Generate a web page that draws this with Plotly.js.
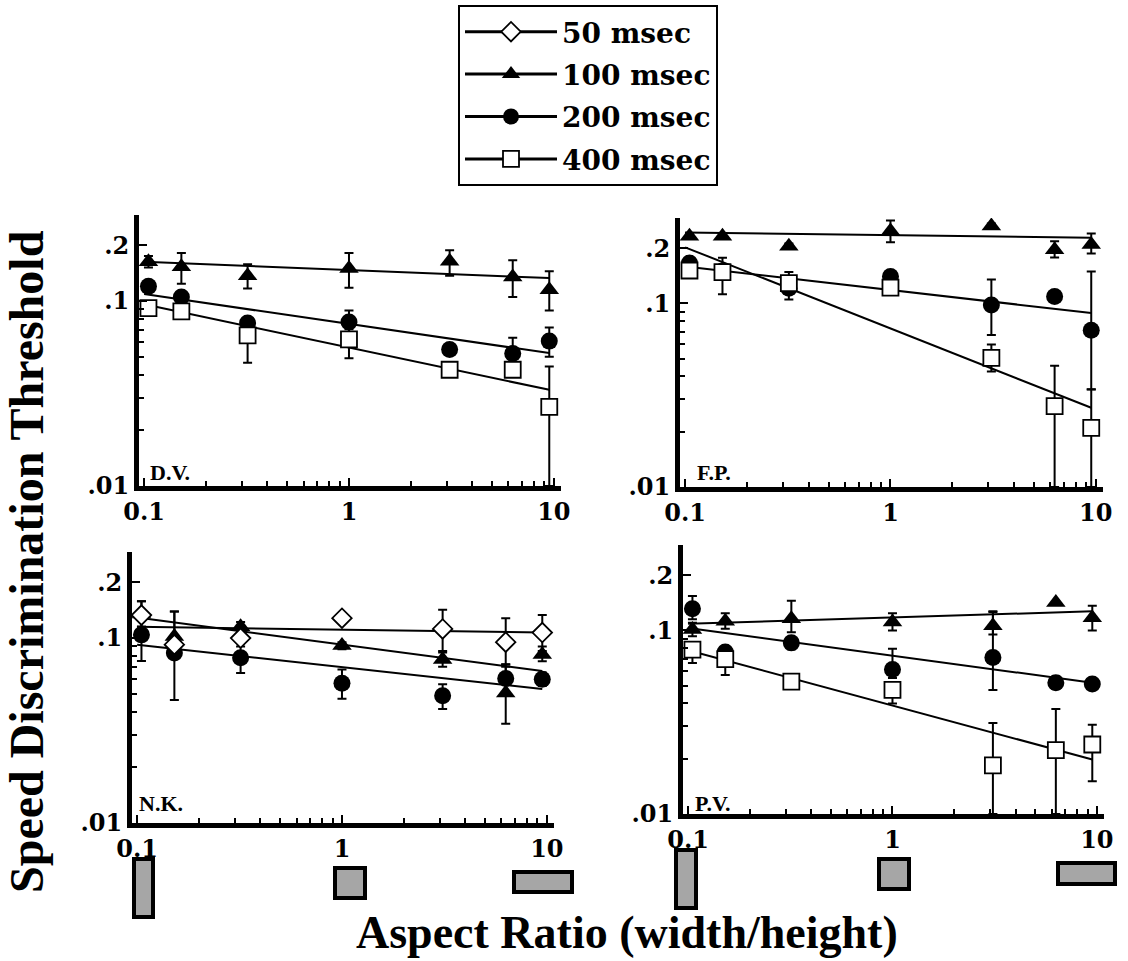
<!DOCTYPE html>
<html><head><meta charset="utf-8">
<script src="https://cdn.plot.ly/plotly-3.0.1.min.js"></script>
<style>body{margin:0;background:#fff}#chart{width:1128px;height:961px}</style>
</head><body><div id="chart"></div>
<script>
// ---------- data ----------
const ratio = [0.105, 0.152, 0.32, 1, 3.1, 6.3, 9.5];
const fitX = [0.1, 9.5];
const seriesNames = ['50 msec', '100 msec', '200 msec', '400 msec'];
const panelNames = ['D.V.', 'F.P.', 'N.K.', 'P.V.'];
const xTickVals = [0.1, 1, 10];
const xTickText = ['0.1', '1', '10'];
const yTickVals = [0.01, 0.1, 0.2];
const yTickText = ['.01', '.1', '.2'];

// D.V.
const dv_tri    = [0.163, 0.153, 0.137, 0.150, 0.164, 0.135, 0.115];
const dv_tri_hi = [0.175, 0.182, 0.158, 0.182, 0.188, 0.166, 0.145];
const dv_tri_lo = [0.152, 0.124, 0.117, 0.118, 0.137, 0.105, 0.089];
const dv_cir    = [0.120, 0.105, 0.076, 0.077, 0.0547, 0.052, 0.0607];
const dv_cir_hi = [0.127, 0.112, 0.080, 0.089, 0.058, 0.0633, 0.072];
const dv_cir_lo = [0.113, 0.090, 0.072, 0.0675, 0.051, 0.0453, 0.050];
const dv_sq     = [0.0916, 0.0879, 0.0652, 0.062, 0.0425, 0.0425, 0.0268];
const dv_sq_hi  = [0.095, 0.093, 0.078, 0.0704, 0.044, 0.044, 0.0443];
const dv_sq_lo  = [0.088, 0.080, 0.0464, 0.0491, 0.041, 0.041, 0.0100];
const dv_fit_tri = [0.163, 0.133];
const dv_fit_cir = [0.109, 0.0523];
const dv_fit_sq  = [0.096, 0.0331];

// F.P.
const fp_tri    = [0.232, 0.232, 0.205, 0.248, 0.264, 0.196, 0.209];
const fp_tri_hi = [0.240, 0.240, 0.212, 0.283, 0.272, 0.218, 0.240];
const fp_tri_lo = [0.225, 0.225, 0.198, 0.215, 0.256, 0.178, 0.187];
const fp_cir    = [0.166, 0.150, 0.121, 0.140, 0.098, 0.109, 0.0713];
const fp_cir_hi = [0.175, 0.160, 0.135, 0.145, 0.135, 0.113, 0.149];
const fp_cir_lo = [0.158, 0.140, 0.105, 0.135, 0.0673, 0.105, 0.0341];
const fp_sq     = [0.151, 0.148, 0.129, 0.122, 0.0505, 0.0276, 0.021];
const fp_sq_hi  = [0.158, 0.177, 0.148, 0.126, 0.0598, 0.0458, 0.034];
const fp_sq_lo  = [0.144, 0.112, 0.120, 0.118, 0.0426, 0.0100, 0.0100];
const fp_fit_tri = [0.243, 0.228];
const fp_fit_cir = [0.159, 0.0886];
const fp_fit_sq  = [0.202, 0.027];

// N.K.
const nk_dia    = [0.133, 0.092, 0.100, 0.128, 0.112, 0.095, 0.107];
const nk_dia_hi = [0.158, 0.097, 0.105, 0.133, 0.142, 0.128, 0.133];
const nk_dia_lo = [0.110, 0.087, 0.095, 0.123, 0.0834, 0.072, 0.085];
const nk_tri    = [0.135, 0.102, 0.115, 0.091, 0.0766, 0.0504, 0.0815];
const nk_tri_hi = [0.158, 0.139, 0.122, 0.095, 0.085, 0.0722, 0.090];
const nk_tri_lo = [0.115, 0.080, 0.108, 0.087, 0.070, 0.0344, 0.075];
const nk_cir    = [0.104, 0.083, 0.0782, 0.057, 0.0488, 0.0604, 0.0599];
const nk_cir_hi = [0.115, 0.139, 0.090, 0.0676, 0.0562, 0.070, 0.065];
const nk_cir_lo = [0.0752, 0.0462, 0.0647, 0.0469, 0.0413, 0.050, 0.055];
const nk_fit_dia = [0.115, 0.107];
const nk_fit_tri = [0.129, 0.0663];
const nk_fit_cir = [0.092, 0.053];

// P.V.
const pv_tri    = [0.101, 0.112, 0.1157, 0.111, 0.106, 0.142, 0.117];
const pv_tri_hi = [0.110, 0.124, 0.145, 0.124, 0.126, 0.142, 0.136];
const pv_tri_lo = [0.093, 0.102, 0.0977, 0.100, 0.095, 0.142, 0.100];
const pv_cir    = [0.131, 0.0763, 0.0855, 0.0613, 0.0711, 0.0519, 0.051];
const pv_cir_hi = [0.154, 0.082, 0.092, 0.0795, 0.127, 0.056, 0.051];
const pv_cir_lo = [0.115, 0.070, 0.079, 0.055, 0.0473, 0.048, 0.051];
const pv_sq     = [0.0785, 0.0697, 0.0526, 0.0474, 0.0184, 0.0223, 0.0239];
const pv_sq_hi  = [0.0785, 0.0697, 0.0526, 0.0474, 0.0313, 0.0373, 0.0306];
const pv_sq_lo  = [0.0664, 0.0571, 0.0526, 0.040, 0.0100, 0.0100, 0.0151];
const pv_fit_tri = [0.1086, 0.127];
const pv_fit_cir = [0.103, 0.0519];
const pv_fit_sq  = [0.078, 0.0198];

// ---------- styles ----------
const W = 1128, H = 961;
const markerStyle = {
  '50 msec':  {symbol: 'diamond', size: 15, color: 'white', line: {color: 'black', width: 1.8}},
  '100 msec': {symbol: 'triangle-up', size: 17, color: 'black', line: {color: 'black', width: 0}},
  '200 msec': {symbol: 'circle', size: 17, color: 'black', line: {color: 'black', width: 0}},
  '400 msec': {symbol: 'square', size: 16, color: 'white', line: {color: 'black', width: 1.8}}
};

function sfx(n) { return n === 1 ? '' : String(n); }

function pts(n, name, y, hi, lo) {
  return {
    type: 'scatter', mode: 'markers', name: name, showlegend: false,
    x: ratio, y: y, xaxis: 'x' + sfx(n), yaxis: 'y' + sfx(n),
    marker: markerStyle[name],
    error_y: {type: 'data', symmetric: false,
      array: hi.map((h, i) => h - y[i]),
      arrayminus: lo.map((l, i) => y[i] - l),
      color: 'black', thickness: 2, width: 4.5},
    hoverinfo: 'x+y'
  };
}
function fit(n, y) {
  return {type: 'scatter', mode: 'lines', showlegend: false, x: fitX, y: y,
    xaxis: 'x' + sfx(n), yaxis: 'y' + sfx(n), line: {color: 'black', width: 2}, hoverinfo: 'skip'};
}

const traces = [
  fit(1, dv_fit_tri), fit(1, dv_fit_cir), fit(1, dv_fit_sq),
  pts(1, '100 msec', dv_tri, dv_tri_hi, dv_tri_lo),
  pts(1, '200 msec', dv_cir, dv_cir_hi, dv_cir_lo),
  pts(1, '400 msec', dv_sq, dv_sq_hi, dv_sq_lo),

  fit(2, fp_fit_tri), fit(2, fp_fit_cir), fit(2, fp_fit_sq),
  pts(2, '100 msec', fp_tri, fp_tri_hi, fp_tri_lo),
  pts(2, '200 msec', fp_cir, fp_cir_hi, fp_cir_lo),
  pts(2, '400 msec', fp_sq, fp_sq_hi, fp_sq_lo),

  fit(3, nk_fit_dia), fit(3, nk_fit_tri), fit(3, nk_fit_cir),
  pts(3, '100 msec', nk_tri, nk_tri_hi, nk_tri_lo),
  pts(3, '200 msec', nk_cir, nk_cir_hi, nk_cir_lo),
  pts(3, '50 msec', nk_dia, nk_dia_hi, nk_dia_lo),

  fit(4, pv_fit_tri), fit(4, pv_fit_cir), fit(4, pv_fit_sq),
  pts(4, '100 msec', pv_tri, pv_tri_hi, pv_tri_lo),
  pts(4, '200 msec', pv_cir, pv_cir_hi, pv_cir_lo),
  pts(4, '400 msec', pv_sq, pv_sq_hi, pv_sq_lo)
];
// legend entries
seriesNames.forEach(nm => traces.push({
  type: 'scatter', mode: 'lines+markers', name: nm, legendgroup: nm, x: [null], y: [null],
  xaxis: 'x', yaxis: 'y', marker: markerStyle[nm], line: {color: 'black', width: 3}, showlegend: true
}));

// ---------- layout ----------
// panel boxes in pixels: [left, right, top, bottom]
const boxes = [[139, 561, 215, 486], [680, 1103, 218, 487], [132, 554, 552, 823], [683, 1104, 545, 814]];
const xMinor = [0.2,0.3,0.4,0.5,0.6,0.7,0.8,0.9,2,3,4,5,6,7,8,9];
const yMinor = [0.02,0.03,0.04,0.05,0.06,0.07,0.08,0.09];
const tickFont = {family: 'DejaVu Serif', size: 24, color: 'black', weight: 'bold'};

const layout = {
  width: W, height: H, margin: {l: 0, r: 0, t: 0, b: 0},
  paper_bgcolor: 'white', plot_bgcolor: 'rgba(0,0,0,0)',
  showlegend: true,
  legend: {x: 458 / W, y: 1 - 5 / H, xanchor: 'left', yanchor: 'top',
    bordercolor: 'black', borderwidth: 2, bgcolor: 'white', itemwidth: 92,
    font: {family: 'DejaVu Serif', size: 28, color: 'black', weight: 'bold'},
    tracegroupgap: 3},
  annotations: [], shapes: []
};

boxes.forEach((b, i) => {
  const n = i + 1, s = sfx(n);
  layout['xaxis' + s] = {
    type: 'log', domain: [b[0] / W, b[1] / W], range: [-1.025, 1.035],
    anchor: 'y' + s, showline: true, linewidth: 5, linecolor: 'black',
    showgrid: false, zeroline: false, ticks: 'inside', ticklen: 8, tickwidth: 2, tickcolor: 'black',
    tickmode: 'array', tickvals: xTickVals, ticktext: xTickText, tickfont: tickFont,
    minor: {tickmode: 'array', tickvals: xMinor, ticks: 'inside', ticklen: 5, tickwidth: 2, tickcolor: 'black', showgrid: false}
  };
  layout['yaxis' + s] = {
    type: 'log', domain: [1 - b[3] / H, 1 - b[2] / H], range: [-2, -0.535],
    anchor: 'x' + s, showline: true, linewidth: 5, linecolor: 'black',
    showgrid: false, zeroline: false, ticks: 'inside', ticklen: 8, tickwidth: 2, tickcolor: 'black',
    tickmode: 'array', tickvals: yTickVals, ticktext: yTickText, tickfont: tickFont,
    minor: {tickmode: 'array', tickvals: yMinor, ticks: 'inside', ticklen: 5, tickwidth: 2, tickcolor: 'black', showgrid: false}
  };
});

// panel labels
const labelPos = [[148, 472], [695, 472], [137, 803], [693, 803]];
panelNames.forEach((t, i) => layout.annotations.push({
  text: t, xref: 'paper', yref: 'paper', x: labelPos[i][0] / W, y: 1 - labelPos[i][1] / H,
  xanchor: 'left', yanchor: 'middle', showarrow: false,
  font: {family: 'Liberation Serif', size: 22, color: 'black', weight: 'bold'}
}));
// axis titles
layout.annotations.push({
  text: 'Speed Discrimination Threshold', xref: 'paper', yref: 'paper',
  x: 26 / W, y: 1 - 562 / H, textangle: -90, showarrow: false, xanchor: 'center', yanchor: 'middle',
  font: {family: 'Liberation Serif', size: 48, color: 'black', weight: 'bold'}
});
layout.annotations.push({
  text: 'Aspect Ratio (width/height)', xref: 'paper', yref: 'paper',
  x: 627 / W, y: 1 - 932 / H, showarrow: false, xanchor: 'center', yanchor: 'middle',
  font: {family: 'Liberation Serif', size: 46, color: 'black', weight: 'bold'}
});
// stimulus shape icons
const rects = [[132, 155, 857, 919], [333, 367, 866, 900], [512, 574, 870, 894],
               [674, 698, 848, 910], [877, 911, 857, 891], [1056, 1117, 861, 886]];
rects.forEach(r => layout.shapes.push({
  type: 'rect', xref: 'paper', yref: 'paper',
  x0: (r[0] + 2) / W, x1: (r[1] - 2) / W, y0: 1 - (r[3] - 2) / H, y1: 1 - (r[2] + 2) / H,
  fillcolor: '#a6a6a6', line: {color: 'black', width: 4}
}));

Plotly.newPlot('chart', traces, layout, {staticPlot: true});
</script></body></html>
